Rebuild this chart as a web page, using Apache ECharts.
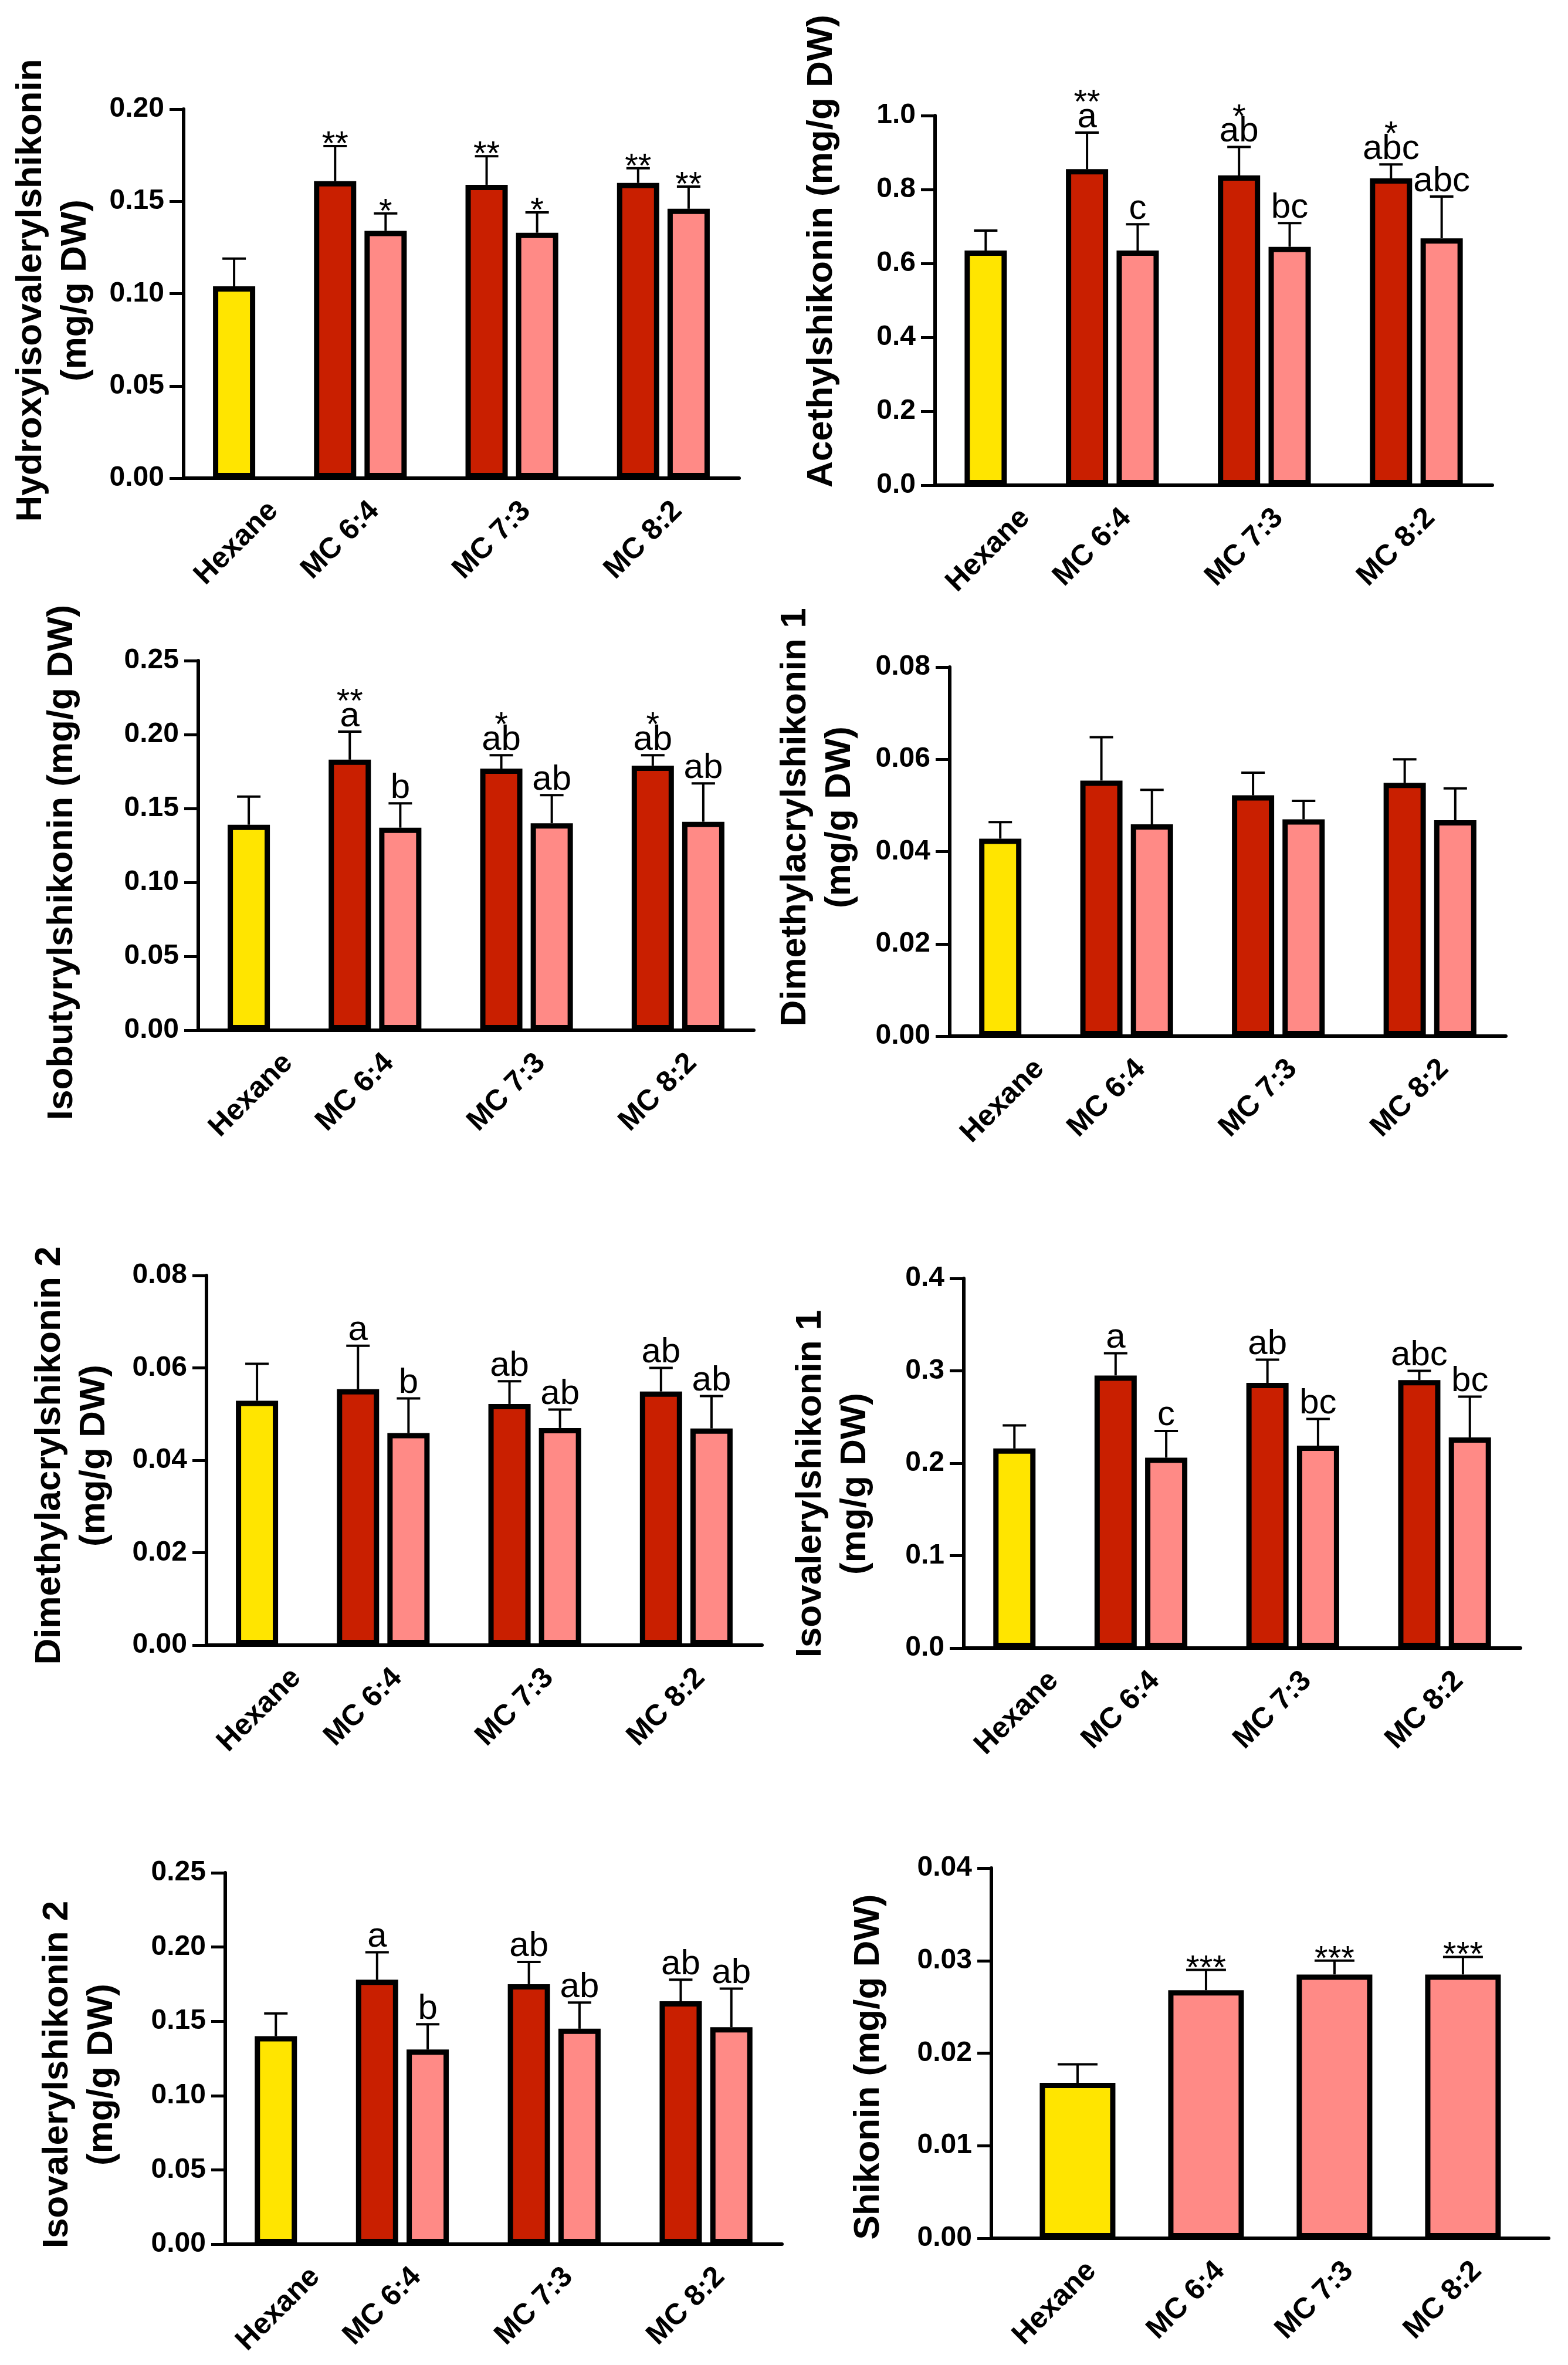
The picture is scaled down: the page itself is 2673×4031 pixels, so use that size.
<!DOCTYPE html>
<html>
<head>
<meta charset="utf-8">
<script src="https://cdn.jsdelivr.net/npm/echarts@6.0.0/dist/echarts.min.js"></script>
<style>
  html, body { margin: 0; padding: 0; background: #fff; }
  #main { width: 2673px; height: 4031px; }
</style>
</head>
<body>
<div id="main"></div>
<script>
var chart = echarts.init(document.getElementById('main'));

var groups = ['Hexane', 'MC 6:4', 'MC 7:3', 'MC 8:2'];

// bar order: Hexane, 6:4 dark, 6:4 light, 7:3 dark, 7:3 light, 8:2 dark, 8:2 light
var hydroxyMean = [0.104, 0.161, 0.134, 0.159, 0.133, 0.160, 0.146];
var hydroxySd = [0.015, 0.019, 0.0095, 0.0155, 0.011, 0.008, 0.012];
var hydroxyStars = ['', '**', '*', '**', '*', '**', '**'];

var acetMean = [0.635, 0.855, 0.635, 0.838, 0.645, 0.830, 0.668];
var acetSd = [0.054, 0.099, 0.071, 0.077, 0.064, 0.038, 0.113];
var acetLetters = ['', 'a', 'c', 'ab', 'bc', 'abc', 'abc'];
var acetStars = ['', '**', '', '*', '', '*', ''];

var isobutMean = [0.139, 0.183, 0.137, 0.177, 0.140, 0.179, 0.141];
var isobutSd = [0.019, 0.019, 0.0165, 0.009, 0.019, 0.007, 0.026];
var isobutLetters = ['', 'a', 'b', 'ab', 'ab', 'ab', 'ab'];
var isobutStars = ['', '**', '', '*', '', '*', ''];

var dimeth1Mean = [0.0428, 0.0554, 0.0459, 0.0522, 0.0470, 0.0549, 0.0468];
var dimeth1Sd = [0.0036, 0.0094, 0.0075, 0.0049, 0.0040, 0.0051, 0.0069];

var dimeth2Mean = [0.0529, 0.0554, 0.0459, 0.0522, 0.0470, 0.0549, 0.0469];
var dimeth2Sd = [0.0080, 0.0094, 0.0075, 0.0049, 0.0040, 0.0051, 0.0070];
var dimeth2Letters = ['', 'a', 'b', 'ab', 'ab', 'ab', 'ab'];

var isoval1Mean = [0.216, 0.295, 0.206, 0.287, 0.219, 0.290, 0.228];
var isoval1Sd = [0.025, 0.024, 0.029, 0.025, 0.029, 0.010, 0.044];
var isoval1Letters = ['', 'a', 'c', 'ab', 'bc', 'abc', 'bc'];

var isoval2Mean = [0.140, 0.178, 0.131, 0.175, 0.145, 0.1635, 0.146];
var isoval2Sd = [0.0153, 0.0185, 0.017, 0.015, 0.0176, 0.0145, 0.026];
var isoval2Letters = ['', 'a', 'b', 'ab', 'ab', 'ab', 'ab'];

// shikonin: one bar per extraction
var shikoninMean = [0.0168, 0.0268, 0.0285, 0.0285];
var shikoninSd = [0.0020, 0.0022, 0.0015, 0.0019];
var shikoninStars = ['', '***', '***', '***'];

var YELLOW = '#FFE500', DARK = '#C91F00', PINK = '#FF8A86';
var FONT = '"Liberation Sans", Arial, sans-serif';

var panels = [
  { name: 'Hydroxyisovalerylshikonin\n(mg/g DW)', tx: 91, ty: 495, left: 313, top: 186, right: 1260, bottom: 815,
    max: 0.20, step: 0.05, dec: 2, mean: hydroxyMean, sd: hydroxySd, letters: null, stars: hydroxyStars },
  { name: 'Acethylshikonin (mg/g DW)', tx: 1401, ty: 428, left: 1594, top: 197, right: 2544, bottom: 827,
    max: 1.0, step: 0.2, dec: 1, mean: acetMean, sd: acetSd, letters: acetLetters, stars: acetStars },
  { name: 'Isobutyrylshikonin (mg/g DW)', tx: 106, ty: 1470, left: 338, top: 1126, right: 1285, bottom: 1756,
    max: 0.25, step: 0.05, dec: 2, mean: isobutMean, sd: isobutSd, letters: isobutLetters, stars: isobutStars },
  { name: 'Dimethylacrylshikonin 1\n(mg/g DW)', tx: 1394, ty: 1393, left: 1619, top: 1137, right: 2567, bottom: 1766,
    max: 0.08, step: 0.02, dec: 2, mean: dimeth1Mean, sd: dimeth1Sd, letters: null, stars: null },
  { name: 'Dimethylacrylshikonin 2\n(mg/g DW)', tx: 123, ty: 2481, left: 352, top: 2174, right: 1299, bottom: 2804,
    max: 0.08, step: 0.02, dec: 2, mean: dimeth2Mean, sd: dimeth2Sd, letters: dimeth2Letters, stars: null },
  { name: 'Isovalerylshikonin 1\n(mg/g DW)', tx: 1420, ty: 2529, left: 1643, top: 2179, right: 2592, bottom: 2809,
    max: 0.4, step: 0.1, dec: 1, mean: isoval1Mean, sd: isoval1Sd, letters: isoval1Letters, stars: null },
  { name: 'Isovalerylshikonin 2\n(mg/g DW)', tx: 136, ty: 3536, left: 384, top: 3192, right: 1333, bottom: 3825,
    max: 0.25, step: 0.05, dec: 2, mean: isoval2Mean, sd: isoval2Sd, letters: isoval2Letters, stars: null },
  { name: 'Shikonin (mg/g DW)', tx: 1481, ty: 3523, left: 1690, top: 3184, right: 2640, bottom: 3815,
    max: 0.04, step: 0.01, dec: 2, mean: shikoninMean, sd: shikoninSd, letters: null, stars: shikoninStars }
];

var grids = [], xAxes = [], yAxes = [], series = [], graphics = [];

panels.forEach(function (p, i) {
  var single = p.mean.length === 4;
  var xs, colors, labelAt, xmin, xmax, barW, cap;
  if (single) {
    xs = [0, 1, 2, 3];
    colors = [YELLOW, PINK, PINK, PINK];
    labelAt = [0, 1, 2, 3];
    xmin = -0.671; xmax = 3.667;
    barW = 129; cap = 34;
  } else {
    // slot layout: hexane alone, then dark/light pairs with a free slot between groups
    xs = [1, 3, 4, 6, 7, 9, 10];
    colors = [YELLOW, DARK, PINK, DARK, PINK, DARK, PINK];
    labelAt = [1.5, 3.5, 6.5, 9.5];
    xmin = 0; xmax = 11;
    barW = 72; cap = 20;
  }
  var w = p.right - p.left;
  var shift = 24 * (xmax - xmin) / w;
  var labelVals = labelAt.map(function (v) { return v + shift; });

  grids.push({ left: p.left, top: p.top, width: w, height: p.bottom - p.top, containLabel: false });

  xAxes.push({
    type: 'value', gridIndex: i, min: xmin, max: xmax,
    splitLine: { show: false },
    axisTick: { show: false },
    axisLine: { show: true, onZero: false, lineStyle: { color: '#000', width: 6 } },
    axisLabel: {
      customValues: labelVals,
      rotate: 45, margin: 48, color: '#000',
      fontFamily: FONT, fontWeight: 'bold', fontSize: 50,
      formatter: function (val) {
        for (var k = 0; k < labelVals.length; k++) {
          if (Math.abs(labelVals[k] - val) < 1e-6) return groups[k];
        }
        return '';
      }
    }
  });

  yAxes.push({
    type: 'value', gridIndex: i, min: 0, max: p.max, interval: p.step,
    splitLine: { show: false },
    axisLine: { show: true, onZero: false, lineStyle: { color: '#000', width: 6 } },
    axisTick: { show: true, length: 24, lineStyle: { color: '#000', width: 5 } },
    axisLabel: {
      margin: 33, color: '#000', fontFamily: FONT, fontWeight: 'bold', fontSize: 48,
      formatter: function (v) { return v.toFixed(p.dec); }
    }
  });

  series.push({
    type: 'bar', xAxisIndex: i, yAxisIndex: i, barWidth: barW, z: 2,
    itemStyle: { borderColor: '#000', borderWidth: 9 },
    data: p.mean.map(function (v, k) {
      return { value: [xs[k], v], itemStyle: { color: colors[k] } };
    })
  });

  series.push({
    type: 'custom', xAxisIndex: i, yAxisIndex: i, z: 3,
    data: p.mean.map(function (v, k) { return [xs[k], v, p.sd[k]]; }),
    renderItem: function (params, api) {
      var x = api.value(0), m = api.value(1), s = api.value(2);
      var base = api.coord([x, m]);
      var top = api.coord([x, m + s]);
      var ch = [
        { type: 'line', shape: { x1: base[0], y1: base[1], x2: top[0], y2: top[1] },
          style: { stroke: '#000', lineWidth: 4 } },
        { type: 'line', shape: { x1: top[0] - cap, y1: top[1], x2: top[0] + cap, y2: top[1] },
          style: { stroke: '#000', lineWidth: 4 } }
      ];
      var idx = params.dataIndex;
      var lt = p.letters ? p.letters[idx] : '';
      var st = p.stars ? p.stars[idx] : '';
      if (lt) {
        ch.push({ type: 'text', style: { text: lt, x: top[0], y: top[1] + 4, align: 'center', verticalAlign: 'bottom',
          font: '60px ' + FONT, fill: '#000' } });
      }
      if (st) {
        ch.push({ type: 'text', style: { text: st, x: top[0], y: lt ? top[1] - 20 : top[1] + 28, align: 'center',
          verticalAlign: 'bottom', font: '58px ' + FONT, fill: '#000' } });
      }
      return { type: 'group', children: ch };
    }
  });

  graphics.push({
    type: 'text', x: p.tx, y: p.ty, rotation: Math.PI / 2,
    style: { text: p.name, font: 'bold 62px ' + FONT, fill: '#000',
      align: 'center', verticalAlign: 'middle', textAlign: 'center', textVerticalAlign: 'middle', lineHeight: 76 }
  });
});

var option = {
  backgroundColor: '#fff',
  animation: false,
  grid: grids,
  xAxis: xAxes,
  yAxis: yAxes,
  series: series,
  graphic: graphics
};
chart.setOption(option);
</script>
</body>
</html>
